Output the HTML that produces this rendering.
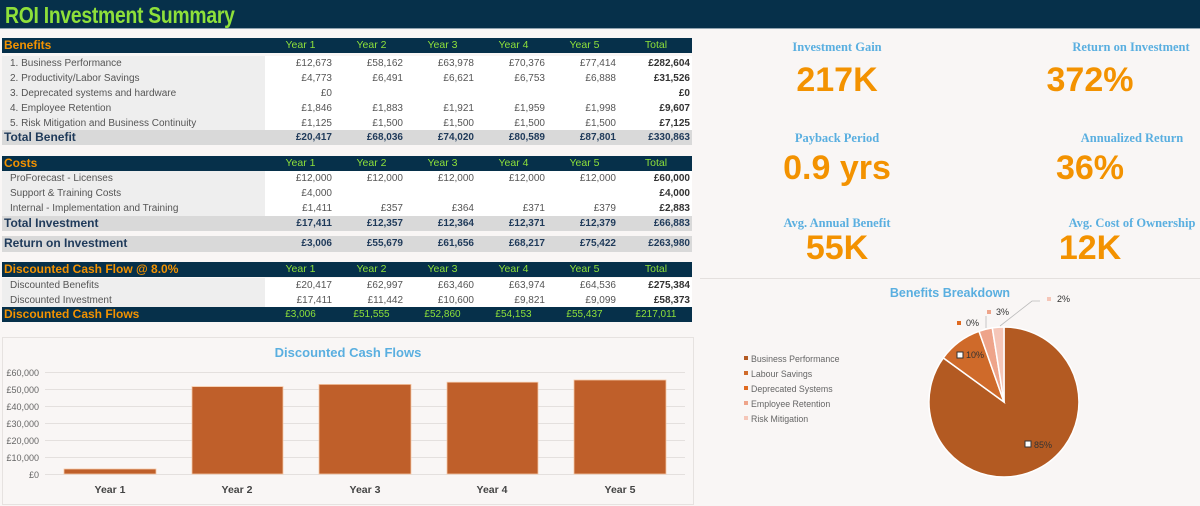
<!DOCTYPE html>
<html><head><meta charset="utf-8">
<style>
*{margin:0;padding:0;box-sizing:border-box}
body{width:1200px;height:506px;background:#f9f6f5;position:relative;overflow:hidden;font-family:"Liberation Sans Narrow","Liberation Sans",sans-serif;}
.hdr{position:absolute;left:0;top:0;width:1200px;height:29px;background:#06304a;border-bottom:1px solid #8fa3b0}
.title{position:absolute;left:5px;top:2px;color:#8ee03a;font-size:23px;font-weight:bold;letter-spacing:-0.3px;transform:scaleX(0.84);transform-origin:left top;white-space:nowrap}
.r{position:absolute;left:2px;width:690px;height:15px;display:flex;font-size:10px;line-height:15px;color:#555}
.r div{height:15px;white-space:nowrap}
.l{width:263px;padding-left:8px;background:#eeeeee}
.n{width:71px;text-align:right;padding-right:4px;background:#fff}
.t{width:72px;text-align:right;padding-right:2px;background:#fff;font-weight:bold;color:#333}
.h{background:#06304a;color:#8ee03a;font-size:10.5px}
.h .l{background:none;color:#f39200;font-weight:bold;font-size:12px;padding-left:2px}
.h .n,.h .t{background:none;text-align:center;padding:0;font-weight:normal;color:#8ee03a}
.tot{background:#d9d9d9;color:#1f3a5a;font-weight:bold}
.tot .l{background:none;font-size:12px;padding-left:2px;color:#1f3a5a}
.tot .n,.tot .t{background:none;color:#1f3a5a}
.ft{background:#06304a}
.ft .l{background:none;color:#f39200;font-weight:bold;font-size:12px;padding-left:2px}
.ft .n,.ft .t{background:none;color:#8ee03a;text-align:center;padding:0;font-weight:normal}
.kt{position:absolute;color:#5aafe0;font-family:"Liberation Serif",serif;font-weight:bold;font-size:12.5px;text-align:center;width:240px}
.kv{position:absolute;color:#f39200;font-family:"Liberation Sans",sans-serif;font-weight:bold;font-size:34px;text-align:center;width:240px;line-height:36px}
.panel{position:absolute;left:2px;top:337px;width:692px;height:168px;border:1px solid #e6e2e0;background:#f9f6f5}
</style></head><body>
<div class="hdr"><div class="title">ROI Investment Summary</div></div>

<div class="r h" style="top:38px"><div class="l">Benefits</div><div class="n">Year 1</div><div class="n">Year 2</div><div class="n">Year 3</div><div class="n">Year 4</div><div class="n">Year 5</div><div class="t">Total</div></div>
<div class="r" style="top:56px"><div class="l">1. Business Performance</div><div class="n">£12,673</div><div class="n">£58,162</div><div class="n">£63,978</div><div class="n">£70,376</div><div class="n">£77,414</div><div class="t">£282,604</div></div>
<div class="r" style="top:71px"><div class="l">2. Productivity/Labor Savings</div><div class="n">£4,773</div><div class="n">£6,491</div><div class="n">£6,621</div><div class="n">£6,753</div><div class="n">£6,888</div><div class="t">£31,526</div></div>
<div class="r" style="top:86px"><div class="l">3. Deprecated systems and hardware</div><div class="n">£0</div><div class="n"></div><div class="n"></div><div class="n"></div><div class="n"></div><div class="t">£0</div></div>
<div class="r" style="top:101px"><div class="l">4. Employee Retention</div><div class="n">£1,846</div><div class="n">£1,883</div><div class="n">£1,921</div><div class="n">£1,959</div><div class="n">£1,998</div><div class="t">£9,607</div></div>
<div class="r" style="top:116px"><div class="l">5. Risk Mitigation and Business Continuity</div><div class="n">£1,125</div><div class="n">£1,500</div><div class="n">£1,500</div><div class="n">£1,500</div><div class="n">£1,500</div><div class="t">£7,125</div></div>
<div class="r tot" style="top:130px"><div class="l">Total Benefit</div><div class="n">£20,417</div><div class="n">£68,036</div><div class="n">£74,020</div><div class="n">£80,589</div><div class="n">£87,801</div><div class="t">£330,863</div></div>

<div class="r h" style="top:156px"><div class="l">Costs</div><div class="n">Year 1</div><div class="n">Year 2</div><div class="n">Year 3</div><div class="n">Year 4</div><div class="n">Year 5</div><div class="t">Total</div></div>
<div class="r" style="top:171px"><div class="l">ProForecast - Licenses</div><div class="n">£12,000</div><div class="n">£12,000</div><div class="n">£12,000</div><div class="n">£12,000</div><div class="n">£12,000</div><div class="t">£60,000</div></div>
<div class="r" style="top:186px"><div class="l">Support &amp; Training Costs</div><div class="n">£4,000</div><div class="n"></div><div class="n"></div><div class="n"></div><div class="n"></div><div class="t">£4,000</div></div>
<div class="r" style="top:201px"><div class="l">Internal - Implementation and Training</div><div class="n">£1,411</div><div class="n">£357</div><div class="n">£364</div><div class="n">£371</div><div class="n">£379</div><div class="t">£2,883</div></div>
<div class="r tot" style="top:216px"><div class="l">Total Investment</div><div class="n">£17,411</div><div class="n">£12,357</div><div class="n">£12,364</div><div class="n">£12,371</div><div class="n">£12,379</div><div class="t">£66,883</div></div>
<div class="r tot" style="top:236px;height:16px"><div class="l">Return on Investment</div><div class="n">£3,006</div><div class="n">£55,679</div><div class="n">£61,656</div><div class="n">£68,217</div><div class="n">£75,422</div><div class="t">£263,980</div></div>

<div class="r h" style="top:262px"><div class="l">Discounted Cash Flow @ 8.0%</div><div class="n">Year 1</div><div class="n">Year 2</div><div class="n">Year 3</div><div class="n">Year 4</div><div class="n">Year 5</div><div class="t">Total</div></div>
<div class="r" style="top:278px"><div class="l">Discounted Benefits</div><div class="n">£20,417</div><div class="n">£62,997</div><div class="n">£63,460</div><div class="n">£63,974</div><div class="n">£64,536</div><div class="t">£275,384</div></div>
<div class="r" style="top:293px"><div class="l">Discounted Investment</div><div class="n">£17,411</div><div class="n">£11,442</div><div class="n">£10,600</div><div class="n">£9,821</div><div class="n">£9,099</div><div class="t">£58,373</div></div>
<div class="r ft" style="top:307px"><div class="l">Discounted Cash Flows</div><div class="n">£3,006</div><div class="n">£51,555</div><div class="n">£52,860</div><div class="n">£54,153</div><div class="n">£55,437</div><div class="t">£217,011</div></div>

<div class="panel"></div>
<svg style="position:absolute;left:0;top:0" width="1200" height="506">
<g font-family="Liberation Sans Narrow, Liberation Sans, sans-serif">
<text x="348" y="357" text-anchor="middle" fill="#5aafe0" font-size="13" font-weight="bold">Discounted Cash Flows</text>
<g stroke="#e4e0de" stroke-width="1">
<line x1="45" x2="685" y1="372.5" y2="372.5"/><line x1="45" x2="685" y1="389.5" y2="389.5"/><line x1="45" x2="685" y1="406.5" y2="406.5"/><line x1="45" x2="685" y1="423.5" y2="423.5"/><line x1="45" x2="685" y1="440.5" y2="440.5"/><line x1="45" x2="685" y1="457.5" y2="457.5"/><line x1="45" x2="685" y1="474.5" y2="474.5"/>
</g>
<g fill="#666" font-size="9" text-anchor="end">
<text x="39" y="376">£60,000</text><text x="39" y="393">£50,000</text><text x="39" y="410">£40,000</text><text x="39" y="427">£30,000</text><text x="39" y="444">£20,000</text><text x="39" y="461">£10,000</text><text x="39" y="478">£0</text>
</g>
<g fill="#bf5f2a" stroke="#f5c8a8" stroke-width="0.8">
<rect x="64" y="469" width="92" height="5"/>
<rect x="192" y="386.6" width="91" height="87.4"/>
<rect x="319" y="384.4" width="92" height="89.6"/>
<rect x="447" y="382.2" width="91" height="91.8"/>
<rect x="574" y="380" width="92" height="94"/>
</g>
<g fill="#444" font-size="10.5" font-weight="bold" text-anchor="middle">
<text x="110" y="493">Year 1</text><text x="237" y="493">Year 2</text><text x="365" y="493">Year 3</text><text x="492" y="493">Year 4</text><text x="620" y="493">Year 5</text>
</g>
</g>
<line x1="700" x2="1200" y1="278.5" y2="278.5" stroke="#e4e0de"/>
<text x="950" y="297" text-anchor="middle" fill="#5aafe0" font-size="12.5" font-weight="bold" font-family="Liberation Sans Narrow, Liberation Sans, sans-serif">Benefits Breakdown</text>
<g stroke="#fff" stroke-width="1.5">
<path d="M1004 402 L1004 327 A75 75 0 1 1 943.3 357.9 Z" fill="#b35a22"/>
<path d="M1004 402 L943.3 357.9 A75 75 0 0 1 979 331.3 Z" fill="#cf6a2a"/>
<path d="M1004 402 L979 331.3 A75 75 0 0 1 992.3 327.9 Z" fill="#eea48a"/>
<path d="M1004 402 L992.3 327.9 A75 75 0 0 1 1004 327 Z" fill="#f5c6b8"/>
</g>
<g stroke="#bbb" stroke-width="0.8" fill="none">
<polyline points="986,316 986,328"/><polyline points="1040,301 1032,301 1000,326"/>
</g>
<g font-family="Liberation Sans, sans-serif" font-size="9" fill="#333">
<rect x="1025" y="441" width="6" height="6" fill="#fff" stroke="#333" stroke-width="1"/><text x="1034" y="448">85%</text>
<rect x="957" y="352" width="6" height="6" fill="#fff" stroke="#333" stroke-width="1"/><text x="966" y="358">10%</text>
<rect x="957" y="321" width="4" height="4" fill="#e06a20"/><text x="966" y="326">0%</text>
<rect x="987" y="310" width="4" height="4" fill="#eea48a"/><text x="996" y="315">3%</text>
<rect x="1047" y="297" width="4" height="4" fill="#f5c6b8"/><text x="1057" y="302">2%</text>
</g>
<g font-family="Liberation Sans, sans-serif" font-size="8.8" fill="#666">
<rect x="744" y="356" width="4" height="4" fill="#b35a22"/><text x="751" y="362">Business Performance</text>
<rect x="744" y="371" width="4" height="4" fill="#cf6a2a"/><text x="751" y="377">Labour Savings</text>
<rect x="744" y="386" width="4" height="4" fill="#e06a20"/><text x="751" y="392">Deprecated Systems</text>
<rect x="744" y="401" width="4" height="4" fill="#eea48a"/><text x="751" y="407">Employee Retention</text>
<rect x="744" y="416" width="4" height="4" fill="#f5c6b8"/><text x="751" y="422">Risk Mitigation</text>
</g>
</svg>

<div class="kt" style="left:717px;top:40px">Investment Gain</div>
<div class="kv" style="left:717px;top:62px">217K</div>
<div class="kt" style="left:1011px;top:40px">Return on Investment</div>
<div class="kv" style="left:970px;top:62px">372%</div>
<div class="kt" style="left:717px;top:131px">Payback Period</div>
<div class="kv" style="left:717px;top:150px">0.9 yrs</div>
<div class="kt" style="left:1012px;top:131px">Annualized Return</div>
<div class="kv" style="left:970px;top:150px">36%</div>
<div class="kt" style="left:717px;top:216px">Avg. Annual Benefit</div>
<div class="kv" style="left:717px;top:230px">55K</div>
<div class="kt" style="left:1012px;top:216px">Avg. Cost of Ownership</div>
<div class="kv" style="left:970px;top:230px">12K</div>
</body></html>
